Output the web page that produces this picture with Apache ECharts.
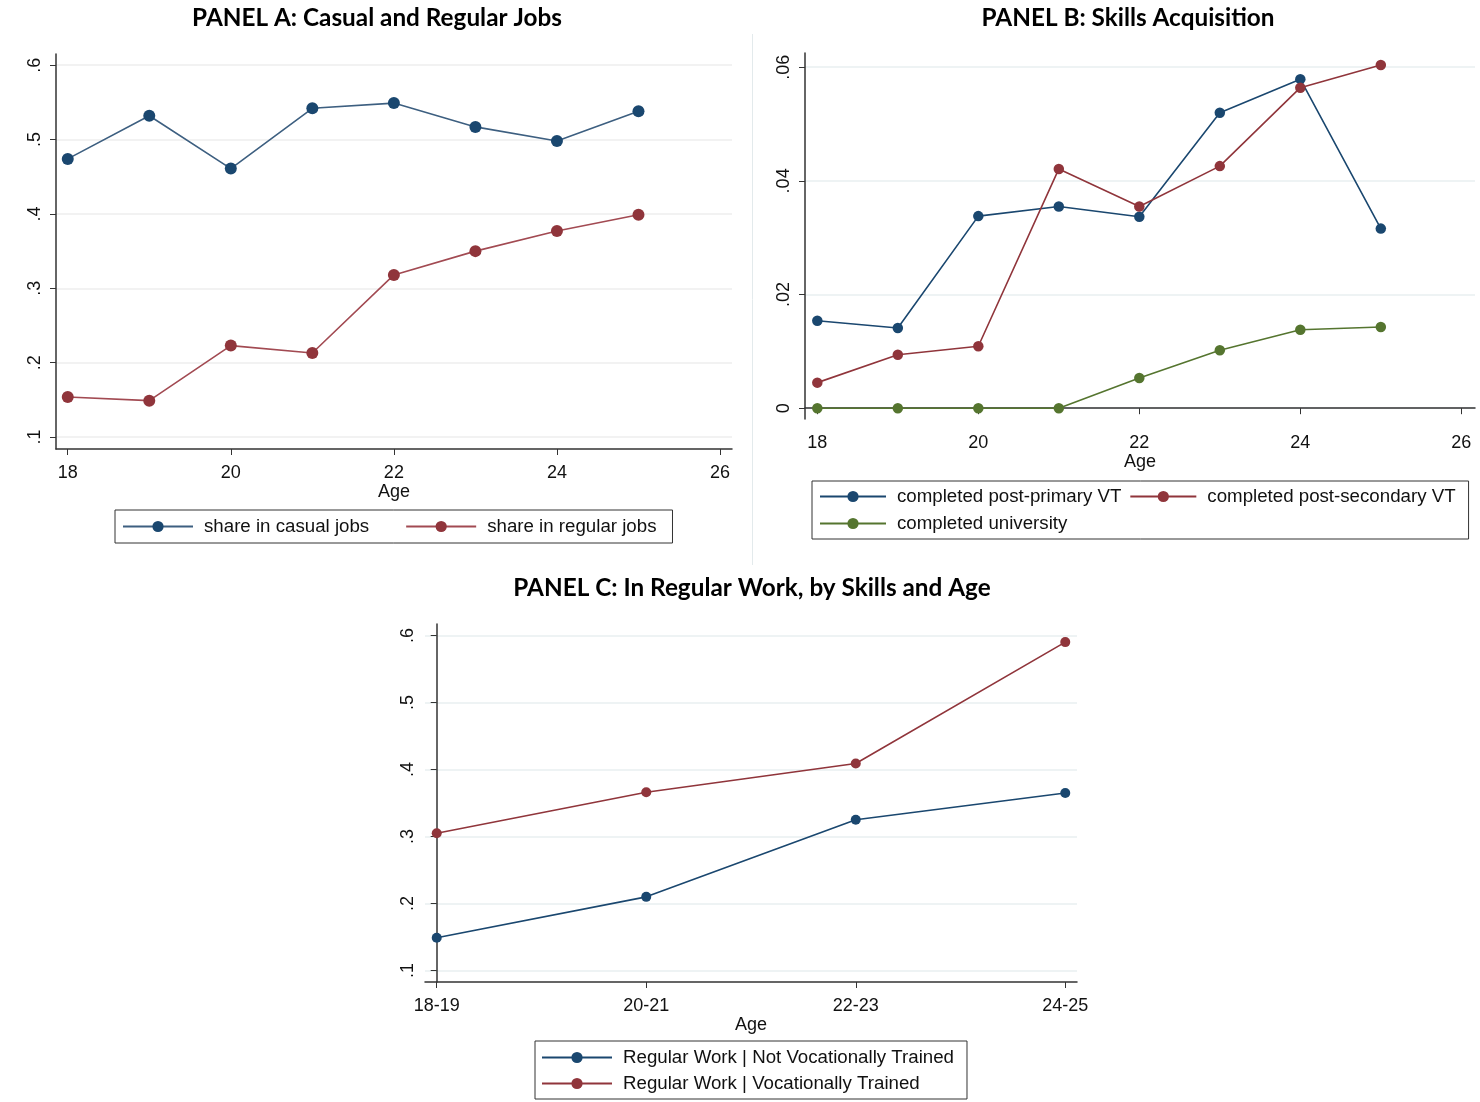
<!DOCTYPE html>
<html>
<head>
<meta charset="utf-8">
<title>Panels A-C</title>
<script src="https://cdn.jsdelivr.net/npm/echarts@6/dist/echarts.min.js"></script>
<style>
  html, body { margin: 0; padding: 0; background: #fff; }
  #main { width: 1480px; height: 1102px; }
</style>
</head>
<body>
<div id="main"></div>
<script>
// panel A: casual vs regular jobs by age
var agesA = [18, 19, 20, 21, 22, 23, 24, 25];
var casualJobs = [0.474, 0.532, 0.461, 0.542, 0.549, 0.517, 0.498, 0.538];
var regularJobs = [0.154, 0.149, 0.223, 0.213, 0.318, 0.350, 0.377, 0.399];

// panel B: skills acquisition
var agesB = [18, 19, 20, 21, 22, 23, 24, 25];
var postPrimaryVT = [0.0154, 0.0141, 0.0338, 0.0355, 0.0337, 0.0520, 0.0579, 0.0316];
var postSecondaryVT = [0.0045, 0.0094, 0.0109, 0.0421, 0.0355, 0.0426, 0.0564, 0.0604];
var university = [0, 0, 0, 0, 0.0053, 0.0102, 0.0138, 0.0143];

// panel C: regular work by skills and age group
var ageGroups = ['18-19', '20-21', '22-23', '24-25'];
var notVT = [0.149, 0.210, 0.325, 0.365];
var withVT = [0.305, 0.366, 0.409, 0.590];

var xTicksAB = [18, 20, 22, 24, 26];
var yTicksA = [0.1, 0.2, 0.3, 0.4, 0.5, 0.6];
var yTicksB = [0, 0.02, 0.04, 0.06];
var yTicksC = [0.1, 0.2, 0.3, 0.4, 0.5, 0.6];

var BLUE = '#1a476f', RED = '#90353b', GREEN = '#55752f';

function pairs(xs, ys) {
  return xs.map(function (x, i) { return [x, ys[i]]; });
}
// stata style: .6 instead of 0.6
function stataNum(v) {
  var s = String(+(+v).toFixed(3));
  return s.replace(/^0\./, '.');
}

var chart = echarts.init(document.getElementById('main'));

var labelFont = { fontFamily: 'Liberation Sans, Arial, sans-serif', fontSize: 18, color: '#111' };
var legendFont = { fontFamily: 'Liberation Sans, Arial, sans-serif', fontSize: 18.7, color: '#111' };

function xAxisFor(grid, min, max, ticks, fmt) {
  return {
    type: 'value', gridIndex: grid, min: min, max: max,
    name: 'Age', nameLocation: 'middle', nameGap: 32,
    nameTextStyle: labelFont,
    axisLine: { show: true, lineStyle: { color: '#333', width: 1.5 } },
    axisTick: { show: true, length: 6, customValues: ticks, lineStyle: { color: '#333' } },
    axisLabel: Object.assign({ customValues: ticks, margin: 15, formatter: fmt }, labelFont),
    splitLine: { show: false }
  };
}
function yAxisFor(grid, min, max, ticks, margin, gridColor) {
  return {
    type: 'value', gridIndex: grid, min: min, max: max,
    axisLine: { show: true, lineStyle: { color: '#333', width: 1.5 } },
    axisTick: { show: true, length: 6, customValues: ticks, lineStyle: { color: '#333' } },
    axisLabel: Object.assign({ customValues: ticks, rotate: 90, margin: margin, formatter: stataNum }, labelFont),
    splitLine: { show: true, lineStyle: { color: gridColor, width: 1.5 } }
  };
}
function lineSeries(name, x, y, data, color, size, lineColor) {
  return {
    name: name, type: 'line', xAxisIndex: x, yAxisIndex: y, data: data,
    symbol: 'circle', symbolSize: size, showSymbol: true,
    itemStyle: { color: color },
    lineStyle: { color: lineColor || color, width: 1.6 },
    emphasis: { disabled: true }, animation: false
  };
}

var titleFont = { fontFamily: 'Lato, Noto Sans, sans-serif', fontWeight: 'bold', fontSize: 24.3, color: '#000' };
var legendBase = {
  borderColor: '#333', borderWidth: 1, backgroundColor: '#fff',
  itemWidth: 70, itemHeight: 14,
  textStyle: Object.assign({ padding: [0, 0, 0, 6] }, legendFont)
};

var option = {
  backgroundColor: '#fff',
  animation: false,
  title: [
    { text: 'PANEL A: Casual and Regular Jobs', left: 372, top: 1, textAlign: 'center', textStyle: titleFont },
    { text: 'PANEL B: Skills Acquisition', left: 1123, top: 1, textAlign: 'center', textStyle: titleFont },
    { text: 'PANEL C: In Regular Work, by Skills and Age', left: 747, top: 571, textAlign: 'center', textStyle: titleFont }
  ],
  grid: [
    { left: 56, top: 54, width: 676, height: 395 },
    { left: 805, top: 53, width: 670, height: 366 },
    { left: 425, top: 624, width: 652, height: 358 }
  ],
  xAxis: [
    xAxisFor(0, 17.856, 26.147, xTicksAB, function (v) { return String(v); }),
    xAxisFor(1, 17.847, 26.17, xTicksAB, function (v) { return String(v); }),
    xAxisFor(2, -0.056, 3.056, [0, 1, 2, 3], function (v) { return ageGroups[Math.round(v)]; })
  ],
  yAxis: [
    yAxisFor(0, 0.084, 0.615, yTicksA, 12, '#eeeeee'),
    yAxisFor(1, -0.0019, 0.0625, yTicksB, 12, '#e8eff1'),
    yAxisFor(2, 0.083, 0.617, yTicksC, 8, '#e8eff1')
  ],
  legend: [
    Object.assign({}, legendBase, {
      left: 115, top: 510, padding: [7, 16, 7, 7], itemGap: 36,
      data: ['share in casual jobs', 'share in regular jobs']
    }),
    Object.assign({}, legendBase, {
      left: 812, top: 481, width: 650, padding: [6, 13, 6, 7], itemGap: 8,
      itemWidth: 66,
      textStyle: Object.assign({ padding: [0, 0, 0, 6], width: 236 }, legendFont),
      data: ['completed post-primary VT', 'completed post-secondary VT', 'completed university']
    }),
    Object.assign({}, legendBase, {
      left: 535, top: 1041, orient: 'vertical', padding: [7, 13, 6, 6], itemGap: 7,
      data: ['Regular Work | Not Vocationally Trained', 'Regular Work | Vocationally Trained']
    })
  ],
  graphic: [
    { type: 'line', shape: { x1: 752.5, y1: 34, x2: 752.5, y2: 565 }, style: { stroke: '#e3eaec', lineWidth: 1 } }
  ],
  series: [
    lineSeries('share in casual jobs', 0, 0, pairs(agesA, casualJobs), BLUE, 12, '#3d5f80'),
    lineSeries('share in regular jobs', 0, 0, pairs(agesA, regularJobs), RED, 12, '#a24a52'),
    lineSeries('completed post-primary VT', 1, 1, pairs(agesB, postPrimaryVT), BLUE, 10.5),
    lineSeries('completed post-secondary VT', 1, 1, pairs(agesB, postSecondaryVT), RED, 10.5),
    lineSeries('completed university', 1, 1, pairs(agesB, university), GREEN, 10.5),
    lineSeries('Regular Work | Not Vocationally Trained', 2, 2, pairs([0, 1, 2, 3], notVT), BLUE, 10),
    lineSeries('Regular Work | Vocationally Trained', 2, 2, pairs([0, 1, 2, 3], withVT), RED, 10)
  ]
};

chart.setOption(option);
</script>
</body>
</html>
